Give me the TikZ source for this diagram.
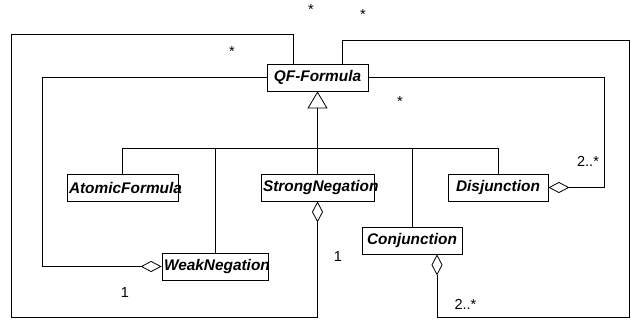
\documentclass[tikz,border=0pt]{standalone}
\usepackage{fontspec}
\setmainfont{Liberation Sans}
\usetikzlibrary{arrows.meta}

\begin{document}
\begin{tikzpicture}[x=1pt,y=-1pt,
	cls/.style={draw,line width=.8pt,minimum height=27pt,inner xsep=2pt,inner ysep=0pt,align=center,font=\fontsize{15.4}{17}\selectfont\bfseries\itshape},
	mult/.style={anchor=base,inner sep=0pt,font=\fontsize{14.5}{16}\selectfont},
	gen/.style={-{Triangle[open,length=17pt,width=20pt]},line width=.8pt},
	agg/.style={-{Diamond[open,length=21pt,width=11pt]},line width=.8pt}]
			\useasboundingbox (0,0) rectangle (631,321);
			\node[cls,text width=97pt] (qf) at (317.5,77.5) {QF-Formula};
			\node[cls,text width=107pt] (atomic) at (122.5,187.5) {AtomicFormula};
			\node[cls,text width=109pt] (strong) at (317.5,187.5) {StrongNegation};
			\node[cls,text width=96pt] (disj) at (498,187.5) {Disjunction};
			\node[cls,text width=96pt] (conj) at (412,240.5) {Conjunction};
			\node[cls,text width=102pt] (weak) at (215,266.5) {WeakNegation};
			\coordinate (bus) at (317.5,148);
			\draw[gen] (strong.north) -- (qf.south);
			\foreach \n in {atomic,weak,conj,disj} \draw[line width=.8pt] (\n.north) |- (bus);
			\coordinate (wl) at (42,266.5);
			\draw[agg] (qf.west) -| (wl) -- (weak.west);
			\coordinate (o1) at (11,34);
			\coordinate (o2) at (11,317);
			\draw[agg] ([xshift=-24.5pt]qf.north) |- (o1) -- (o2) -| (strong.south);
			\coordinate (o3) at (629,40);
			\coordinate (o4) at (629,317);
			\draw[agg] ([xshift=24.5pt]qf.north) |- (o3) -- (o4) -| ([xshift=25pt]conj.south);
			\coordinate (dr) at (604,187.5);
			\draw[agg] (qf.east) -| (dr) -- (disj.east);
			\node[mult] (s1) at (311,14.4) {*};
			\node[mult] (s2) at (363,19.4) {*};
			\node[mult] (s3) at (232,56.4) {*};
			\node[mult] (s4) at (400,106.4) {*};
			\node[mult] (w1) at (125,297.2) {1};
			\node[mult] (n1) at (338,261.2) {1};
			\node[mult] (c2) at (465.5,309.2) {2..*};
			\node[mult] (d2) at (588,166.2) {2..*};
		\end{tikzpicture}
\end{document}
